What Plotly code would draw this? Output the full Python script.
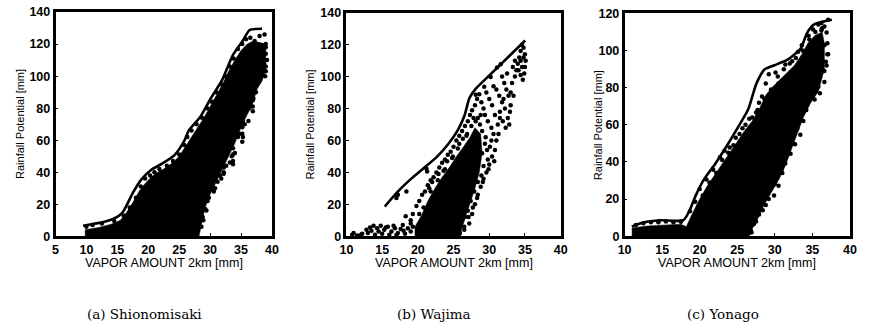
import plotly.graph_objects as go

W, H = 869, 333

# ---------------- (a) Shionomisaki ----------------
a_env_x = [9.45, 13.06, 15.18, 15.98, 17.57, 18.9, 20.5, 22.3, 24.2, 25.8, 26.6, 28.4, 30.0, 31.9, 33.7, 35.3, 36.4, 38.4]
a_env_y = [6.6, 9.2, 12.6, 15.6, 27.5, 35.5, 41.5, 45.5, 50.5, 59.4, 66.4, 74.4, 85.4, 97.3, 113.3, 122.3, 128.8, 129.6]
a_core_x = [9.8, 9.8, 12, 14, 15.5, 16.5, 17.5, 18.5, 19.5, 20.5, 21.5, 22.5, 24, 25, 26, 27, 28, 29, 30, 31, 32, 33, 34, 35, 36, 37, 38, 39,
            39, 38.4, 37.6, 36.8, 36, 35, 34, 33, 32, 31, 30, 29.2, 28.6, 28.2]
a_core_y = [0, 4, 5.5, 7.5, 10, 15, 21, 28, 33, 37, 40, 42, 46, 50, 56, 62, 68, 74, 81, 88, 95, 103, 110, 116, 120, 122, 121, 120,
            104, 97, 92, 82, 76, 68, 58, 50, 42, 34, 26, 18, 8, 0]
a_pts_x = [10, 11, 12.5, 14.5, 16, 17, 18, 18.8, 19.5, 20.3, 21, 21.8, 23, 24, 25, 25.8, 26.3, 27, 27.8, 28.7, 29.5, 30.3, 31, 31.8,
           32.5, 33.2, 33.8, 34.5, 35.2, 35.8, 36.5, 37.2, 38, 38.8, 39, 39, 38.7, 37.5, 36.9, 36.3, 35.3, 35.2, 35.3, 34.5, 33.7,
           33.5, 32.2, 31.8, 30.6, 30.2, 29.6, 29.2, 28.9, 28.6, 32.8, 34, 36, 37, 38.2, 39.2, 37.8, 36.8, 35.6, 34.2, 33, 31.2,
           35.2, 35.2, 35.3, 35.2, 36.9, 36.9, 36.9, 33.7, 33.7, 33.7, 32.2, 32.2, 39, 39, 39, 39, 38.5, 38.5, 38.5, 37.8, 37.8,
           30.8, 31.2, 29.8, 29.4, 28.8, 34.8, 36.2, 37.4, 38.9, 33.2, 32.6, 31.6, 30.4]
a_pts_y = [6, 7, 8, 9.5, 13, 18, 24, 31, 36, 38, 40, 42, 44, 47, 51, 57, 62, 66, 70, 74, 80, 84, 90, 95,
           100, 106, 111, 117, 120, 123, 124, 122, 125, 126, 120, 103, 108, 96, 78, 80, 79, 59, 62, 62, 45,
           50, 40, 36, 28, 30, 22, 17, 10, 6, 56, 52, 88, 86, 100, 110, 104, 95, 70, 66, 58, 48,
           64, 68, 72, 75, 81, 85, 89, 47, 51, 55, 39, 43, 106, 110, 114, 118, 101, 112, 119, 99, 106,
           30, 34, 24, 16, 12, 64, 72, 90, 100, 46, 44, 38, 32]

# ---------------- (b) Wajima ----------------
b_env_x = [15.37, 17.12, 18.96, 20.8, 22.63, 24.24, 25.62, 26.54, 27.23, 28.15, 29.98, 31.82, 33.89, 35.03]
b_env_y = [18.6, 27.6, 35.6, 42.6, 49.6, 57.6, 66.6, 75.6, 86.6, 92.6, 100.6, 108.6, 117.6, 122.6]
b_core_x = [19.6, 19.6, 20.5, 21.4, 22.4, 23.4, 24.4, 25.4, 26.4, 27.3, 28.0, 28.8, 29.0, 28.6, 28.0, 27.3, 26.6, 26.1, 26.0]
b_core_y = [0, 6, 13, 22, 30, 37, 43, 50, 56, 62, 68, 64, 52, 40, 30, 20, 10, 4, 0]
b_pts_x = [19.0, 19.3, 19.8, 20.2, 20.6, 21.0, 21.4, 21.8, 22.2, 22.6, 23.0, 23.4, 23.8, 24.2, 24.6, 25.0, 25.4, 25.8, 26.2, 26.6,
           27.0, 27.3, 27.6, 28.0, 28.3, 28.6, 28.9, 29.2, 28.8, 28.4, 27.8, 26.8, 25.8, 24.8, 23.8, 22.8, 21.8, 20.8, 20.2,
           27.2, 27.6, 28.0, 28.4, 28.8, 29.2, 29.6, 30.0, 30.4, 30.8, 31.0, 30.6, 30.3, 29.8, 29.4, 29.0, 29.4, 29.0, 29.8, 29.2,
           28.9, 28.4, 27.9, 27.4, 27.0, 26.6, 26.5,
           31.0, 31.4, 31.8, 31.5, 31.9, 32.3, 32.6, 32.9, 33.0, 32.7, 32.4, 32.1, 31.8, 32.5, 33.2, 33.0, 32.2, 31.2, 30.8, 30.4,
           30.0, 29.6, 30.6,
           33.6, 33.8, 34.0, 34.2, 34.4, 34.6, 34.8, 35.0, 35.1, 35.0, 34.9, 34.7, 34.4, 34.1, 34.6, 34.4, 34.8, 33.6, 33.3,
           10.8, 11.5, 12.2, 12.8, 13.3, 13.8, 14.3, 14.8, 15.3, 15.8, 16.3, 16.6, 17.2, 17.6, 18.2, 18.6, 19.0, 18.3, 19.0,
           13.0, 15.0, 16.0, 17.0, 14.0, 12.0, 11.0, 14.5, 16.8, 18.0, 17.9, 19.3, 13.5, 15.5,
           17.0, 18.4, 17.2, 21.2, 21.3, 28.1, 29.3, 30.2, 31.1, 31.6,
           21.6, 22.0, 22.9, 23.6, 24.1, 24.9, 25.6, 26.3, 26.9, 27.5, 28.1, 28.7, 29.5, 30.1, 30.7, 31.3, 29.9, 29.1, 28.3,
           27.7, 27.1, 26.5, 25.9, 25.2, 24.4, 23.5, 22.6, 21.7, 20.9, 20.0, 27.9, 28.5, 29.7, 30.3, 31.5, 32.0, 33.4, 32.8]
b_pts_y = [10, 14, 19, 22, 26, 28, 32, 35, 37, 40, 43, 46, 48, 51, 53, 56, 60, 63, 66, 69,
           72, 76, 79, 82, 86, 89, 84, 80, 76, 74, 74, 63, 58, 49, 42, 35, 28, 18, 14,
           8, 14, 20, 26, 31, 36, 40, 45, 50, 54, 60, 64, 68, 72, 76, 66, 58, 52, 48, 44,
           38, 34, 28, 22, 16, 12, 6,
           92, 88, 84, 78, 72, 68, 74, 78, 82, 88, 92, 96, 100, 102, 96, 90, 80, 70, 76, 82,
           86, 90, 94,
           100, 104, 108, 112, 116, 120, 118, 114, 110, 106, 102, 98, 101, 104, 106, 110, 112, 110, 106,
           1, 0.5, 1.5, 4, 5.5, 6.5, 5, 6.5, 4, 6, 3, 6.5, 2, 4.5, 1.5, 5, 3, 12.5, 8,
           2, 1.5, 1, 0.8, 1, 0.8, 2, 3, 5, 3.5, 7, 6, 3.5, 5.5,
           24, 28, 26, 42.5, 40.5, 88.7, 93.7, 99.7, 105.7, 107.8,
           30, 34, 39, 41, 47, 50, 55, 61, 64, 69, 72, 70, 62, 56, 47, 64, 42, 34, 24,
           18, 12, 4, 2, 6, 9, 5, 8, 12, 8, 4, 60, 56, 54, 60, 74, 86, 88, 70]

# ---------------- (c) Yonago ----------------
c_env_x = [10.96, 12.49, 14.67, 17.82, 18.6, 19.48, 20.57, 22.1, 23.62, 25.15, 26.46, 27.55, 28.65, 29.96, 31.7, 33.45, 34.32, 35.2, 36.5, 37.6]
c_env_y = [5.2, 7.4, 8.6, 8.6, 13.4, 22.0, 30.6, 39.2, 48.7, 59.0, 68.4, 82.2, 89.9, 92.1, 95.1, 101.1, 109.7, 114, 115.7, 116.6]
c_band_x = [11, 11, 13, 15, 17.5, 18.3, 18.3]
c_band_y = [0, 4.5, 5.5, 6, 6.5, 5, 0]
c_core_x = [17.8, 18.2, 19, 20, 21, 22, 23, 24, 25, 26, 27, 28, 28.8, 29.6, 30.6, 31.6, 32.6, 33.6, 34.4, 35.3, 36.3,
            36.6, 36.6, 35.8, 34.8, 33.8, 33, 32.2, 31.4, 30.6, 29.6, 28.6, 27.8, 27, 26.6]
c_core_y = [0, 5, 12, 20, 27, 33, 39, 45, 51, 57, 62, 69, 76, 80, 84, 88, 92, 98, 104, 108, 110,
            104, 90, 78, 72, 64, 55, 46, 38, 31, 24, 17, 10, 4, 0]
c_pts_x = [18.7, 19.4, 20, 20.9, 21.8, 22.7, 23.3, 24, 24.8, 25.7, 26.6, 27.5, 27.9, 28.3, 28.8, 29.2, 30.1, 30.5, 31.4, 32.3, 33.1,
           33.6, 34.5, 35.1, 35.8, 36.2, 36.6, 36.9, 36.6, 36.6, 36.6, 35.8, 35.3, 34.5, 34, 33.1, 33.4, 32.7, 32.1, 31.4, 31, 30.5,
           29.9, 28.8, 27.9, 27.2, 26.8, 37.1, 36.2, 37.0, 36.8, 35.9, 36.0,
           19.0, 19.8, 20.4, 21.3, 22.2, 23.0, 23.8, 24.5, 25.3, 26.1, 27.0, 27.7, 28.6, 29.5, 30.4, 31.2, 32.0, 32.8, 33.7, 34.6,
           35.4, 36.3, 37.0, 36.9, 34.2, 33.8, 33.0, 32.4, 31.7, 30.9, 30.0, 29.2, 28.4, 27.5, 26.9, 35.0, 35.5, 34.9, 37.1,
           11.5, 12.5, 13.5, 14.5, 15.5, 16.5, 17.5, 12.0, 14.0, 16.0, 17.0]
c_pts_y = [13.4, 18.6, 25.4, 30.6, 35.8, 42.6, 46, 47.8, 53, 58.1, 63.3, 66.7, 71.9, 75.3, 82.2, 87.3, 88.2, 82.2, 92.5, 94.2, 99.4,
           102.8, 108, 111.4, 114, 114.8, 113, 109.7, 102.8, 89, 83, 80.5, 73.6, 75.3, 71.9, 68.4, 54.7, 49.5, 44.4, 39.2, 34, 27.2,
           22, 16.8, 11.7, 6.5, 3.1, 116.6, 111, 98, 94, 86, 77,
           9, 16, 22, 29, 34, 41, 45, 49, 55, 60, 64, 68, 74, 79, 86, 90, 93, 96, 100, 106,
           110, 112, 104, 92, 68, 62, 58, 50, 44, 36, 28, 20, 14, 8, 2, 76, 82, 80, 98,
           6, 7, 7.5, 7.5, 8, 7.5, 7.8, 1, 1.5, 1, 2]

panels = [
    dict(env=(a_env_x, a_env_y), cores=[(a_core_x, a_core_y)], pts=(a_pts_x, a_pts_y),
         xr=[5, 40], yr=[0, 140], xt=list(range(5, 41, 5)), yt=list(range(0, 141, 20)),
         px=(49.3, 269.3), py=(5.3, 239.3), ytitle_x=13, caption="(a) Shionomisaki", cap_x=140),
    dict(env=(b_env_x, b_env_y), cores=[(b_core_x, b_core_y)], pts=(b_pts_x, b_pts_y),
         xr=[10, 40], yr=[0, 140], xt=list(range(10, 41, 5)), yt=list(range(0, 141, 20)),
         px=(345.0, 562.7), py=(6.0, 239.3), ytitle_x=308, caption="(b) Wajima", cap_x=434),
    dict(env=(c_env_x, c_env_y), cores=[(c_band_x, c_band_y), (c_core_x, c_core_y)], pts=(c_pts_x, c_pts_y),
         xr=[10, 40], yr=[0, 120], xt=list(range(10, 41, 5)), yt=list(range(0, 121, 20)),
         px=(627.7, 856.7), py=(6.7, 239.3), ytitle_x=600, caption="(c) Yonago", cap_x=728),
]

fig = go.Figure()
annotations = []
tickfont = dict(family="Liberation Sans, Arial, sans-serif", size=12.5, color="black")

for i, p in enumerate(panels, start=1):
    xa = "x" if i == 1 else f"x{i}"
    ya = "y" if i == 1 else f"y{i}"
    for cx, cy in p["cores"]:
        fig.add_trace(go.Scatter(x=cx, y=cy, mode="lines", fill="toself", fillcolor="black",
                                 line=dict(width=0.5, color="black"), xaxis=xa, yaxis=ya,
                                 hoverinfo="skip", showlegend=False))
    fig.add_trace(go.Scatter(x=p["pts"][0], y=p["pts"][1], mode="markers",
                             marker=dict(size=4.5, color="black"), xaxis=xa, yaxis=ya, showlegend=False))
    fig.add_trace(go.Scatter(x=p["env"][0], y=p["env"][1], mode="lines",
                             line=dict(width=2.6, color="black", shape="spline", smoothing=0.6),
                             xaxis=xa, yaxis=ya, showlegend=False))
    x0, x1 = p["px"]
    ytop, ybot = p["py"]
    axis_common = dict(showline=True, mirror=True, linewidth=2.5, linecolor="black",
                       ticks="inside", ticklen=3, tickwidth=1, tickcolor="black",
                       showgrid=False, zeroline=False, tickfont=tickfont)
    fig.layout[f"xaxis{'' if i == 1 else i}"] = dict(domain=[x0 / W, x1 / W], range=p["xr"], tickvals=p["xt"],
                                                     ticktext=[f"<b>{v}</b>" for v in p["xt"]],
                                                     anchor=ya, **axis_common)
    fig.layout[f"yaxis{'' if i == 1 else i}"] = dict(domain=[1 - ybot / H, 1 - ytop / H], range=p["yr"], tickvals=p["yt"],
                                                     ticktext=[f"<b>{v}</b>" for v in p["yt"]],
                                                     anchor=xa, **axis_common)
    annotations.append(dict(text="VAPOR AMOUNT 2km [mm]", x=(x0 + x1) / 2 / W, y=1 - 267 / H,
                            xref="paper", yref="paper", showarrow=False, xanchor="center", yanchor="middle",
                            font=dict(family="Liberation Sans, Arial, sans-serif", size=12.5, color="black")))
    annotations.append(dict(text="Rainfall Potential [mm]", x=p["ytitle_x"] / W, y=1 - (ytop + ybot) / 2 / H,
                            xref="paper", yref="paper", showarrow=False, textangle=-90,
                            xanchor="center", yanchor="middle",
                            font=dict(family="Liberation Sans, Arial, sans-serif", size=11, color="black")))
    annotations.append(dict(text=p["caption"], x=p["cap_x"] / W, y=1 - 320 / H,
                            xref="paper", yref="paper", showarrow=False, xanchor="center", yanchor="middle",
                            font=dict(family="DejaVu Serif, serif", size=13.5, color="black")))

fig.update_layout(width=W, height=H, margin=dict(l=0, r=0, t=0, b=0),
                  paper_bgcolor="white", plot_bgcolor="white", annotations=annotations, showlegend=False)

fig.write_html("out.html")
